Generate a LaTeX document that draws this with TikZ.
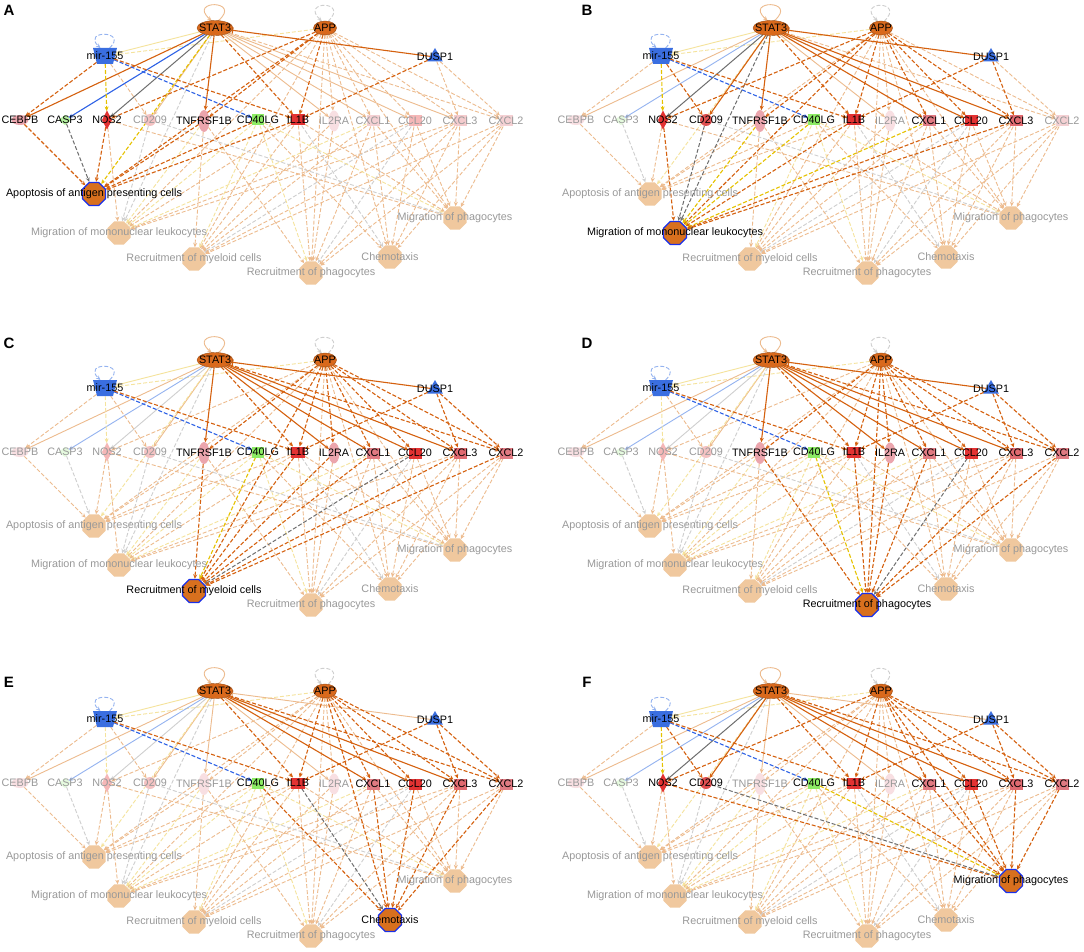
\documentclass[tikz,border=0pt]{standalone}
\usepackage{fontspec}
\setmainfont{Liberation Sans}
\usetikzlibrary{shapes.geometric,arrows.meta}
\definecolor{so}{HTML}{D5610F}
\definecolor{sy}{HTML}{E6C200}
\definecolor{sg}{HTML}{6E6E6E}
\definecolor{sb}{HTML}{2E62E6}
\definecolor{fo}{HTML}{EDBB8E}
\definecolor{fy}{HTML}{F5E39C}
\definecolor{fg}{HTML}{CFCFCF}
\definecolor{fb}{HTML}{94B3F0}
\definecolor{regO}{HTML}{D9691C}
\definecolor{regB}{HTML}{3A6EE0}
\definecolor{funF}{HTML}{F0C89E}
\definecolor{funH}{HTML}{D8701E}
\definecolor{funB}{HTML}{1A30E8}
\definecolor{lblg}{HTML}{999999}
\definecolor{cPink}{HTML}{EBA5AD}
\definecolor{cGreenL}{HTML}{B5F0A0}
\definecolor{cGreen}{HTML}{8CEB64}
\definecolor{cRed}{HTML}{E33232}
\definecolor{cRed2}{HTML}{E05050}
\definecolor{cRose}{HTML}{E07A82}
\definecolor{cRose2}{HTML}{E06A70}
\tikzset{
  tipa/.style={-{Stealth[length=4.5pt,width=4pt]}},
  eso/.style={draw=so,line width=1.1pt,tipa},
  esy/.style={draw=sy,line width=1.1pt,tipa},
  esg/.style={draw=sg,line width=1.0pt,tipa},
  esb/.style={draw=sb,line width=1.1pt,tipa},
  efo/.style={draw=fo,line width=0.9pt,tipa},
  efy/.style={draw=fy,line width=0.9pt,tipa},
  efg/.style={draw=fg,line width=0.9pt,tipa},
  efb/.style={draw=fb,line width=0.9pt,tipa},
  dsh/.style={dash pattern=on 4pt off 2pt},
  bartip/.style={-{Bar[width=6pt]}},
  lbl/.style={font=\fontsize{10.8}{12}\selectfont,inner sep=0pt},
  oct/.style={regular polygon,regular polygon sides=8,minimum size=25pt,inner sep=0.5pt},
  regnode/.style={inner sep=0.5pt,outer sep=0pt},
  letter/.style={font=\bfseries\fontsize{15}{15}\selectfont,inner sep=0pt},
  vmode/.style={}
}
\newif\ifvis
\newif\ifstrongpass
\makeatletter
\newcommand\edg[5]{\expandafter\in@\expandafter{\curpanel}{#5}%
  \ifin@\ifstrongpass\draw[es#3,#4] (#1) -- (#2);\fi
  \else\ifstrongpass\else\draw[ef#3,#4] (#1) -- (#2);\fi\fi}
\newcommand\gene[7]{\expandafter\in@\expandafter{\curpanel}{#6}%
  \ifin@\def\gfill{#5}\def\gtxt{black}\else\def\gfill{#5!35!white}\def\gtxt{lblg}\fi
  \node[inner sep=0.5pt,outer sep=0pt,#4,fill=\gfill,vmode] (#1) at (#2,#3) {};
  \ifvis\node[lbl,text=\gtxt] at (#2,#3) {#7};\fi}
\makeatother
\newcommand\reg[5]{%
  \node[regnode,#4,vmode] (#1) at (#2,#3) {};
  \ifvis\node[lbl] at (#2,#3) {#5};\fi}
\newcommand\func[5]{\def\tmpa{#4}%
  \ifx\tmpa\curpanel
    \node[oct,fill=funH,draw=funB,line width=1.2pt,vmode] (#1) at (#2,#3) {};
    \ifvis\node[lbl,text=black] at (#2,#3) {#5};\fi
  \else
    \node[oct,fill=funF,vmode] (#1) at (#2,#3) {};
    \ifvis\node[lbl,text=lblg] at (#2,#3) {#5};\fi
  \fi}
\newcommand\allnodes{%
\reg{STAT3}{215}{28}{ellipse,fill=regO,draw=regO!70!black,line width=0.4pt,minimum width=36pt,minimum height=15pt}{STAT3}%
\reg{APP}{325}{28}{ellipse,fill=regO,draw=regO!70!black,line width=0.4pt,minimum width=23pt,minimum height=14pt}{APP}%
\reg{mir}{105}{56}{trapezium,shape border rotate=180,trapezium angle=76,fill=regB,minimum width=16pt,minimum height=16pt}{mir-155}%
\reg{DUSP1}{435}{57}{regular polygon,regular polygon sides=3,fill=regB,minimum size=18pt}{DUSP1}%
\gene{CEBPB}{20}{120}{ellipse,minimum width=17pt,minimum height=10pt}{cPink}{A}{CEBPB}%
\gene{CASP3}{65}{120}{diamond,aspect=1.3,minimum width=13pt,minimum height=10pt}{cGreenL}{A}{CASP3}%
\gene{NOS2}{107}{120}{diamond,aspect=0.55,minimum width=10pt,minimum height=19pt}{cRed}{ABF}{NOS2}%
\gene{CD209}{150}{120}{circle,minimum size=12pt}{cRed2}{BF}{CD209}%
\gene{TNFRSF1B}{204}{121}{ellipse,minimum width=11pt,minimum height=22pt}{cPink}{ABCD}{TNFRSF1B}%
\gene{CD40LG}{258}{120}{rectangle,minimum width=12pt,minimum height=11pt}{cGreen}{ABCDEF}{CD40LG}%
\gene{IL1B}{298}{120}{rectangle,minimum width=14pt,minimum height=11pt}{cRed}{ABCDEF}{IL1B}%
\gene{IL2RA}{334}{121}{ellipse,minimum width=11pt,minimum height=21pt}{cPink}{CD}{IL2RA}%
\gene{CXCL1}{373}{121}{rectangle,minimum width=13pt,minimum height=11pt}{cRose}{BCDEF}{CXCL1}%
\gene{CCL20}{415}{121}{rectangle,minimum width=13pt,minimum height=11pt}{cRed}{BCDEF}{CCL20}%
\gene{CXCL3}{460}{121}{rectangle,minimum width=13pt,minimum height=11pt}{cRose2}{BCDEF}{CXCL3}%
\gene{CXCL2}{506}{121}{rectangle,minimum width=13pt,minimum height=11pt}{cRose}{CDEF}{CXCL2}%
\func{Apop}{94}{194}{A}{Apoptosis of antigen presenting cells}%
\func{MigMono}{119}{233}{B}{Migration of mononuclear leukocytes}%
\func{RecMyel}{194}{259}{C}{Recruitment of myeloid cells}%
\func{RecPhago}{311}{273}{D}{Recruitment of phagocytes}%
\func{Chemo}{390}{257}{E}{Chemotaxis}%
\func{MigPhago}{455}{218}{F}{Migration of phagocytes}%
}
\newcommand\alledges{%
\edg{STAT3}{mir}{y}{}{}%
\edg{APP}{mir}{y}{dsh}{}%
\edg{DUSP1}{STAT3}{o}{bartip}{ABCD}%
\edg{STAT3}{CEBPB}{o}{}{A}%
\edg{STAT3}{CASP3}{b}{}{A}%
\edg{STAT3}{NOS2}{g}{}{ABF}%
\edg{STAT3}{CD209}{o}{}{BF}%
\edg{STAT3}{TNFRSF1B}{o}{}{ABCD}%
\edg{STAT3}{IL1B}{o}{dsh}{ABCDEF}%
\edg{STAT3}{IL2RA}{o}{}{CD}%
\edg{STAT3}{CXCL1}{o}{}{BCDEF}%
\edg{STAT3}{CCL20}{o}{}{BCDEF}%
\edg{STAT3}{CXCL3}{o}{}{BCDEF}%
\edg{STAT3}{CXCL2}{o}{dsh}{CDEF}%
\edg{STAT3}{Apop}{y}{dsh}{A}%
\edg{STAT3}{MigMono}{g}{dsh}{B}%
\edg{APP}{NOS2}{o}{dsh}{ABF}%
\edg{APP}{TNFRSF1B}{o}{dsh}{ABCD}%
\edg{APP}{IL1B}{o}{dsh}{ABCDEF}%
\edg{APP}{IL2RA}{o}{dsh}{CD}%
\edg{APP}{CXCL1}{o}{dsh}{BCDEF}%
\edg{APP}{CCL20}{o}{dsh}{BCDEF}%
\edg{APP}{CXCL3}{o}{dsh}{BCDEF}%
\edg{APP}{CXCL2}{o}{dsh}{CDEF}%
\edg{APP}{Apop}{o}{dsh}{A}%
\edg{APP}{MigMono}{o}{dsh}{B}%
\edg{APP}{RecMyel}{o}{dsh}{C}%
\edg{APP}{RecPhago}{o}{dsh}{D}%
\edg{APP}{Chemo}{o}{dsh}{E}%
\edg{APP}{MigPhago}{o}{dsh}{F}%
\edg{mir}{CEBPB}{o}{dsh}{A}%
\edg{mir}{NOS2}{y}{dsh}{ABF}%
\edg{mir}{CD209}{o}{dsh}{BF}%
\edg{mir}{CD40LG}{b}{dsh}{ABCDEF}%
\edg{mir}{IL1B}{o}{dsh}{ABCDEF}%
\edg{DUSP1}{IL1B}{o}{dsh}{ABCDEF}%
\edg{DUSP1}{CXCL3}{o}{dsh}{BCDEF}%
\edg{DUSP1}{CXCL2}{o}{dsh}{CDEF}%
\edg{CEBPB}{Apop}{o}{dsh}{A}%
\edg{CASP3}{Apop}{g}{dsh}{A}%
\edg{NOS2}{Apop}{o}{dsh}{A}%
\edg{TNFRSF1B}{Apop}{o}{dsh}{A}%
\edg{CD40LG}{Apop}{o}{dsh}{A}%
\edg{IL1B}{Apop}{o}{dsh}{A}%
\edg{NOS2}{MigMono}{o}{dsh}{B}%
\edg{CD209}{MigMono}{g}{dsh}{B}%
\edg{TNFRSF1B}{MigMono}{y}{dsh}{B}%
\edg{CD40LG}{MigMono}{y}{dsh}{B}%
\edg{IL1B}{MigMono}{o}{dsh}{B}%
\edg{CXCL1}{MigMono}{y}{dsh}{B}%
\edg{CCL20}{MigMono}{o}{dsh}{B}%
\edg{CXCL3}{MigMono}{o}{dsh}{B}%
\edg{TNFRSF1B}{RecMyel}{o}{dsh}{C}%
\edg{CD40LG}{RecMyel}{y}{dsh}{C}%
\edg{IL1B}{RecMyel}{o}{dsh}{C}%
\edg{IL2RA}{RecMyel}{o}{dsh}{C}%
\edg{CXCL1}{RecMyel}{o}{dsh}{C}%
\edg{CCL20}{RecMyel}{g}{dsh}{C}%
\edg{CXCL3}{RecMyel}{o}{dsh}{C}%
\edg{CXCL2}{RecMyel}{o}{dsh}{C}%
\edg{TNFRSF1B}{RecPhago}{o}{dsh}{D}%
\edg{CD40LG}{RecPhago}{y}{dsh}{D}%
\edg{IL1B}{RecPhago}{o}{dsh}{D}%
\edg{IL2RA}{RecPhago}{o}{dsh}{D}%
\edg{CXCL1}{RecPhago}{o}{dsh}{D}%
\edg{CCL20}{RecPhago}{g}{dsh}{D}%
\edg{CXCL3}{RecPhago}{o}{dsh}{D}%
\edg{CXCL2}{RecPhago}{o}{dsh}{D}%
\edg{CD40LG}{Chemo}{o}{dsh}{E}%
\edg{IL1B}{Chemo}{g}{dsh}{E}%
\edg{CXCL1}{Chemo}{o}{dsh}{E}%
\edg{CCL20}{Chemo}{o}{dsh}{E}%
\edg{CXCL3}{Chemo}{o}{dsh}{E}%
\edg{CXCL2}{Chemo}{o}{dsh}{E}%
\edg{NOS2}{MigPhago}{o}{dsh}{F}%
\edg{CD209}{MigPhago}{g}{dsh}{F}%
\edg{CD40LG}{MigPhago}{y}{dsh}{F}%
\edg{IL1B}{MigPhago}{o}{dsh}{F}%
\edg{CXCL1}{MigPhago}{o}{dsh}{F}%
\edg{CCL20}{MigPhago}{o}{dsh}{F}%
\edg{CXCL3}{MigPhago}{o}{dsh}{F}%
\edg{CXCL2}{MigPhago}{o}{dsh}{F}%
}
\newcommand\drawpanel[3]{%
\begin{scope}[shift={(#2,#3)},name prefix=#1-]
\def\curpanel{#1}%
\visfalse\tikzset{vmode/.style={fill=none,draw=none}}%
\allnodes
\draw[efo] (STAT3.65) .. controls +(24,-21) and +(-24,-21) .. (STAT3.115);
\draw[efg,dsh] (APP.65) .. controls +(22,-21) and +(-22,-21) .. (APP.115);
\draw[efb,dsh] (mir.60) .. controls +(19,-18) and +(-19,-18) .. (mir.120);
\strongpassfalse\alledges
\strongpasstrue\alledges
\vistrue\tikzset{vmode/.style={}}%
\allnodes
\end{scope}}
\begin{document}
\begin{tikzpicture}[x=1pt,y=-1pt]
\useasboundingbox[fill=white] (0,0) rectangle (1084,952);
\drawpanel{A}{0}{0}
\drawpanel{B}{556}{0}
\drawpanel{C}{0}{332}
\drawpanel{D}{556}{332}
\drawpanel{E}{0}{663}
\drawpanel{F}{556}{663}
\node[letter] (LA) at (9,10) {A};
\node[letter] (LB) at (587,10) {B};
\node[letter] (LC) at (9,343) {C};
\node[letter] (LD) at (587,343) {D};
\node[letter] (LE) at (9,682) {E};
\node[letter] (LF) at (587,682) {F};
\end{tikzpicture}
\end{document}
